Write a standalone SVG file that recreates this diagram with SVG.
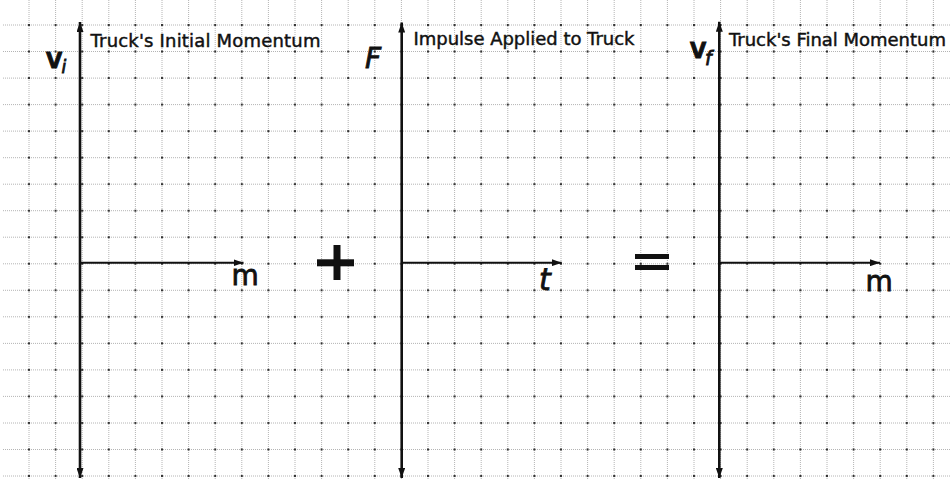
<svg xmlns="http://www.w3.org/2000/svg" width="950" height="480" viewBox="0 0 950 480">
<defs>
<style>
.grid{stroke:#b4b4b4;stroke-width:1;stroke-dasharray:1 1;fill:none}
.ax{stroke:#111;fill:none}
.v{stroke-width:2.6}
.h{stroke-width:2}
.title{font-family:"DejaVu Sans",Verdana,sans-serif;font-size:18px;fill:#111;stroke:#111;stroke-width:0.45}
.lbl{font-family:"DejaVu Sans",Verdana,sans-serif;fill:#111;stroke:#111;stroke-width:0.8}
.sym{fill:#111}
</style>
<marker id="arr" viewBox="0 0 10 7" refX="10" refY="3.5" markerWidth="10" markerHeight="7" markerUnits="userSpaceOnUse" orient="auto-start-reverse">
<path d="M0,0 L10,3.5 L0,7 z" fill="#111"/>
</marker>
<pattern id="dots" patternUnits="userSpaceOnUse" x="28" y="24" width="26.6" height="26.53">
<rect x="0" y="0" width="2" height="2" fill="#333"/>
</pattern>
</defs>
<rect width="950" height="480" fill="#fff"/>
<g id="grid">
<path class="grid" d="M29,0V480 M55.6,0V480 M82.2,0V480 M108.8,0V480 M135.4,0V480 M162,0V480 M188.6,0V480 M215.2,0V480 M241.8,0V480 M268.4,0V480 M295,0V480 M321.6,0V480 M348.2,0V480 M374.8,0V480 M401.4,0V480 M428,0V480 M454.6,0V480 M481.2,0V480 M507.8,0V480 M534.4,0V480 M561,0V480 M587.6,0V480 M614.2,0V480 M640.8,0V480 M667.4,0V480 M694,0V480 M720.6,0V480 M747.2,0V480 M773.8,0V480 M800.4,0V480 M827,0V480 M853.6,0V480 M880.2,0V480 M906.8,0V480 M933.4,0V480"/>
<path class="grid" d="M3,25H950 M3,51.5H950 M3,78.1H950 M3,104.6H950 M3,131.1H950 M3,157.7H950 M3,184.2H950 M3,210.7H950 M3,237.2H950 M3,263.8H950 M3,290.3H950 M3,316.8H950 M3,343.4H950 M3,369.9H950 M3,396.4H950 M3,423H950 M3,449.5H950 M3,476H950"/>
<rect x="28" y="24" width="922" height="456" fill="url(#dots)"/>
</g>
<g id="connectors">
<line class="ax v" x1="80" y1="478" x2="80" y2="22" marker-start="url(#arr)" marker-end="url(#arr)"/>
<line class="ax h" x1="80" y1="262.7" x2="243.5" y2="262.7" marker-end="url(#arr)"/>
<line class="ax v" x1="401.7" y1="478" x2="401.7" y2="22.5" marker-start="url(#arr)" marker-end="url(#arr)"/>
<line class="ax h" x1="401.7" y1="262.7" x2="561.7" y2="262.7" marker-end="url(#arr)"/>
<line class="ax v" x1="719.3" y1="478" x2="719.3" y2="21.7" marker-start="url(#arr)" marker-end="url(#arr)"/>
<line class="ax h" x1="719.3" y1="262.7" x2="880" y2="262.7" marker-end="url(#arr)"/>
</g>
<g id="initial">
<text class="title" x="90.5" y="46.5" textLength="230">Truck's Initial Momentum</text>
<text class="lbl" x="46" y="68" font-size="21" font-weight="bold">V</text>
<text class="lbl" x="61.5" y="73" font-size="17" font-style="italic">i</text>
<text class="lbl" x="231.5" y="285" font-size="28">m</text>
</g>
<g id="plus">
<rect class="sym" x="317" y="259.3" width="37" height="7"/>
<rect class="sym" x="333.5" y="245" width="7" height="35"/>
</g>
<g id="impulse">
<text class="title" x="413.5" y="44.5" textLength="221">Impulse Applied to Truck</text>
<text class="lbl" x="365" y="68.3" font-size="28" font-style="italic">F</text>
<text class="lbl" x="539" y="290" font-size="30" font-style="italic">t</text>
</g>
<g id="equals">
<rect class="sym" x="635" y="254" width="34" height="5"/>
<rect class="sym" x="635" y="265" width="34" height="5"/>
</g>
<g id="final">
<text class="title" x="729" y="45.7" textLength="217">Truck's Final Momentum</text>
<text class="lbl" x="690" y="58" font-size="21" font-weight="bold">V</text>
<text class="lbl" x="705" y="65" font-size="19" font-style="italic">f</text>
<text class="lbl" x="865.5" y="291" font-size="28">m</text>
</g>
</svg>
